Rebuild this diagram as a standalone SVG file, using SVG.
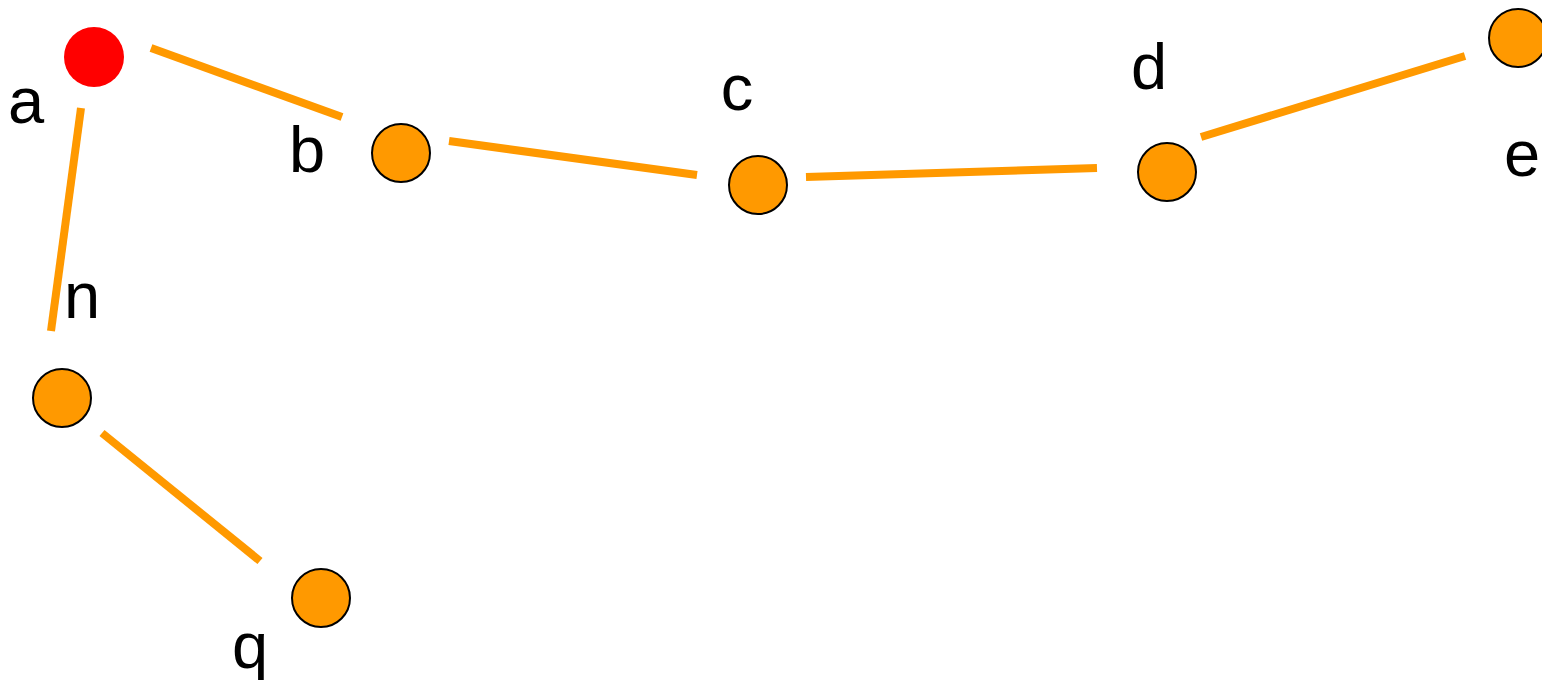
<svg xmlns="http://www.w3.org/2000/svg" width="1542" height="680" viewBox="0 0 1542 680">
<style>
.edge{stroke:#ff9900;stroke-width:8;fill:none}
.node{fill:#ff9900;stroke:#000;stroke-width:2}
.root{fill:#ff0000}
.lbl{font-family:"Liberation Sans",Arial,sans-serif;font-size:65px;fill:#000;text-anchor:middle}
</style>
<rect width="1542" height="680" fill="#fff"/>
<g id="connectors">
<line class="edge" x1="151" y1="48" x2="342" y2="117"/>
<line class="edge" x1="449" y1="141" x2="697" y2="175"/>
<line class="edge" x1="806" y1="177" x2="1097" y2="168"/>
<line class="edge" x1="1201" y1="137" x2="1465" y2="56"/>
<line class="edge" x1="81" y1="108" x2="51" y2="331"/>
<line class="edge" x1="102" y1="433" x2="260" y2="561"/>
</g>
<g id="node-a"><circle class="root" cx="94" cy="57" r="30"/><text class="lbl" x="26" y="123">a</text></g>
<g id="node-b"><circle class="node" cx="401" cy="153" r="29"/><text class="lbl" x="307" y="172">b</text></g>
<g id="node-c"><circle class="node" cx="758" cy="185" r="29"/><text class="lbl" x="737" y="110">c</text></g>
<g id="node-d"><circle class="node" cx="1167" cy="172" r="29"/><text class="lbl" x="1149" y="89">d</text></g>
<g id="node-e"><circle class="node" cx="1518" cy="38" r="29"/><text class="lbl" x="1522" y="176">e</text></g>
<g id="node-n"><circle class="node" cx="62" cy="398" r="29"/><text class="lbl" x="82" y="318">n</text></g>
<g id="node-q"><circle class="node" cx="321" cy="598" r="29"/><text class="lbl" x="250" y="668">q</text></g>
</svg>
